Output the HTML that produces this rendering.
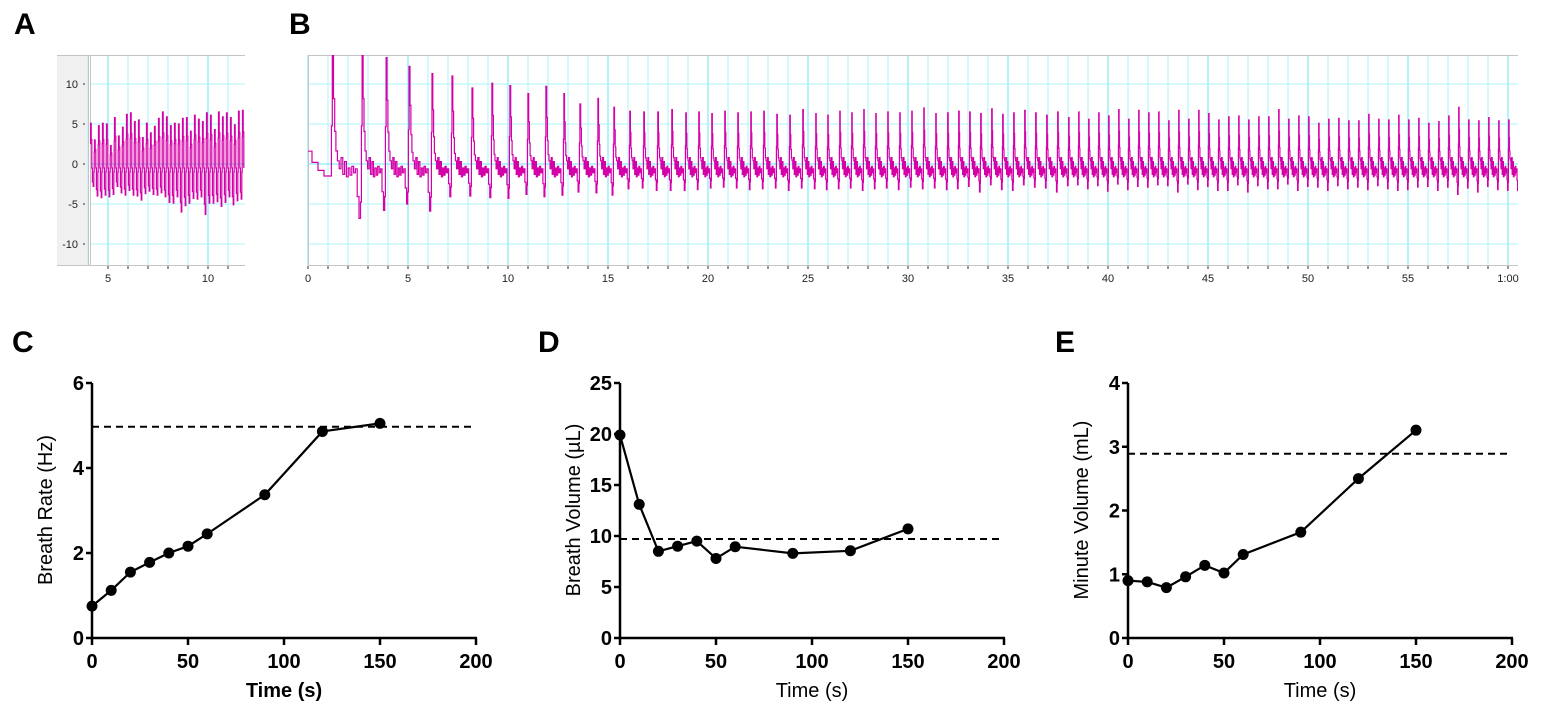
<!DOCTYPE html>
<html><head><meta charset="utf-8"><style>
html,body{margin:0;padding:0;background:#fff;width:1560px;height:728px;overflow:hidden}
svg{display:block;font-family:"Liberation Sans",Arial,sans-serif}
</style></head><body>
<svg id="fig" width="1560" height="728" viewBox="0 0 1560 728">
<defs>
<clipPath id="clipA"><rect x="90" y="55" width="155" height="210"/></clipPath>
<clipPath id="clipB"><rect x="308" y="55" width="1210" height="210"/></clipPath>
</defs>
<text x="14" y="34" font-size="30" font-weight="bold">A</text>
<text x="289" y="34" font-size="30" font-weight="bold">B</text>
<text x="12" y="352" font-size="30" font-weight="bold">C</text>
<text x="538" y="352" font-size="30" font-weight="bold">D</text>
<text x="1055" y="352" font-size="30" font-weight="bold">E</text>
</svg>
<script>
// ---- Panel A data (fast breathing trace, 4-11.8 s) ----
const aStart = 4.1;
const aInterval = 0.2;
const aPeaks = [5.1,3,4.8,5.1,5,2.3,5.8,3.5,4.6,6.2,6.4,5.3,5.5,3.3,5.1,3.9,4.7,5.7,6.5,5.9,4.8,5.1,5,5.7,5.8,4.1,6.1,5.6,5.3,6.4,6.1,4.3,6.5,5.9,6.4,5.8,4.9,6.6,6.7];
const aTroughs = [-2.8,-4,-4.2,-3.9,-4.1,-3.8,-2.8,-3.6,-3.9,-3.3,-3.9,-4,-4.5,-3.7,-3.4,-3.8,-3.9,-3.6,-4.1,-4.8,-4.9,-4.1,-6,-5.2,-4.9,-4.3,-4.4,-4.1,-6.3,-4.9,-4.9,-4.7,-5.3,-4.8,-4.1,-5.1,-4.6,-4.4,-4.5];
// ---- Panel B data (0-60.5 s) ----
const bPeakTimes = [1.2,2.7,3.9,5.05,6.2,7.2,8.2,9.2,10.1,11.0,11.9,12.8,13.6,14.5,15.3,16.1,16.8,17.5,18.2,18.9,19.55,20.2,20.85,21.5,22.15,22.8,23.45,24.1,24.75,25.4,26.0,26.6,27.2,27.8,28.4,29.0,29.6,30.2,30.8,31.4,32.0,32.55,33.1,33.65,34.2,34.75,35.3,35.85,36.4,36.95,37.5,38.05,38.55,39.05,39.55,40.05,40.55,41.05,41.55,42.05,42.55,43.05,43.55,44.05,44.55,45.05,45.55,46.05,46.55,47.05,47.55,48.05,48.55,49.05,49.55,50.05,50.55,51.05,51.55,52.05,52.55,53.05,53.55,54.05,54.55,55.05,55.55,56.05,56.55,57.05,57.55,58.05,58.55,59.05,59.55,60.05];
const bPeakVals = [13.6,13.6,13.3,12.2,11.3,11,9.5,10.1,9.8,8.8,9.7,8.8,7.5,8.2,7.1,6.6,6.5,6.5,6.8,6.4,6.5,6.3,6.6,6.4,6.5,6.6,6.2,6.1,6.8,6.3,6.1,6.6,6.4,6.8,6.3,6.5,6.4,6.6,7,6.3,6.4,6.6,6.5,6.3,6.9,6.2,6.4,6.7,6.4,6.1,6.5,5.8,6.5,5.6,6.4,6.0,6.8,5.6,6.7,6.4,6.5,5.4,6.7,5.6,6.7,6.3,5.5,5.9,6.0,5.5,5.9,5.9,6.8,5.6,6.0,5.9,5.1,5.6,5.7,5.4,5.4,6.2,5.6,5.5,6.1,5.5,5.7,5.1,5.3,6.0,7.1,5.5,5.4,5.8,5.4,5.5];
const bTroughVals = [-6.8,-5.8,-5,-5.9,-4.1,-4,-4.2,-4.3,-3.8,-4.1,-3.9,-3.5,-3.6,-3.9,-3.1,-3.0,-3.3,-3.3,-3.3,-3.2,-3,-2.9,-3,-3.2,-3.1,-3,-3.3,-3,-3.1,-3.2,-3.1,-3,-3.3,-3.1,-3,-3.2,-2.9,-3.1,-3.0,-3.2,-3.1,-2.8,-3.5,-2.6,-3.2,-3.3,-2.6,-2.9,-3.0,-3.5,-2.7,-2.6,-3.1,-2.7,-3.4,-2.5,-3.2,-2.8,-2.9,-2.6,-2.7,-3.5,-2.5,-3.2,-2.8,-3.3,-3.3,-2.6,-3.5,-2.7,-3.1,-3.1,-2.5,-3.3,-2.8,-2.9,-3.3,-2.7,-3.1,-2.9,-3.2,-2.7,-3.1,-3.3,-3.2,-2.9,-2.8,-3.3,-2.9,-3.8,-3.0,-3.5,-2.8,-3.2,-3.3,-3.4];
// ---- Panel C/D/E data ----
const times = [0,10,20,30,40,50,60,90,120,150];
const breathRate = [0.75,1.12,1.55,1.78,2.0,2.16,2.45,3.37,4.86,5.05];
const breathVolume = [19.9,13.1,8.5,9.0,9.5,7.8,8.95,8.3,8.55,10.7];
const minuteVolume = [0.9,0.88,0.79,0.96,1.14,1.02,1.31,1.66,2.5,3.26];
const refRate = 4.97, refVolume = 9.7, refMinute = 2.89;
const xTicks = [0,50,100,150,200];
const cTicks = [0,2,4,6], dTicks = [0,5,10,15,20,25], eTicks = [0,1,2,3,4];
const traceYTicks = [10,5,0,-5,-10];
const aXTicks = [5,10];
const bXTicks = [0,5,10,15,20,25,30,35,40,45,50,55,60];
const bXTickLabels = ['0','5','10','15','20','25','30','35','40','45','50','55','1:00'];
// breath template shapes: [phase, kind, factor]; kind p=peak, t=trough, z=absolute offset
const tplB = [[0,'p',0.35],[0.03,'p',1],[0.07,'p',0.6],[0.11,'p',0.3],[0.15,'p',0.12],[0.2,'z',0.4],[0.26,'z',-0.6],[0.32,'z',0.8],[0.38,'z',-1.3],[0.44,'z',0.3],[0.5,'z',-1.6],[0.56,'z',-0.5],[0.62,'z',-1.4],[0.68,'z',-0.3],[0.74,'z',-1.1],[0.8,'z',-0.6],[0.86,'t',0.6],[0.92,'t',1],[0.97,'t',0.7]];
const tplA = [[0,'p',0.5],[0.08,'p',1],[0.25,'p',0.6],[0.4,'z',-0.5],[0.55,'t',0.8],[0.75,'t',1],[0.9,'z',-1]];

const NS='http://www.w3.org/2000/svg';
const svg=document.getElementById('fig');
function el(tag,attrs,parent){const e=document.createElementNS(NS,tag);for(const k in attrs)e.setAttribute(k,attrs[k]);(parent||svg).appendChild(e);return e;}

function tracePath(tpl,times,peaks,troughs,x,y,t0,t1,defInt){
  let d='';let first=true;
  for(let i=0;i<times.length;i++){
    const tp=times[i];
    const nxt=i+1<times.length?times[i+1]:tp+defInt;
    const intv=nxt-tp;
    for(let j=0;j<tpl.length;j++){
      const t=tp-0.03+tpl[j][0]*intv;
      if(t<t0||t>t1)continue;
      const k=tpl[j][1],f=tpl[j][2];
      const v=k==='p'?peaks[i]*f:(k==='t'?troughs[i]*f:f);
      const px=x(t).toFixed(1),py=y(v).toFixed(1);
      if(first){d+='M'+px+' '+py;first=false;}else{d+='H'+px+'V'+py;}
    }
  }
  return d;
}

// ---------- Panel A ----------
(function(){
  const g=el('g',{});
  
  
  const x=t=>108+(t-5)*20, y=v=>164-v*8;
  el('rect',{x:57,y:55,width:31,height:210,fill:'#f0f0f0'},g);
  for(let s=4;s<=11;s++){const l=el('line',{x1:x(s),x2:x(s),y1:55,y2:265,stroke:s%5===0?'#66e8f4':'#aaf6f8','stroke-width':1},g);}
  traceYTicks.forEach(v=>{el('line',{x1:90,x2:245,y1:y(v),y2:y(v),stroke:v===0?'#66e8f4':'#aaf6f8'},g);
    const t=el('text',{x:78,y:y(v)+4,'font-size':11,'text-anchor':'end',fill:'#222'},g);t.textContent=v;
    el('line',{x1:83,x2:85,y1:y(v),y2:y(v),stroke:'#333'},g);});
  el('line',{x1:57,x2:245,y1:55.5,y2:55.5,stroke:'#c4c4c4'},g);
  el('line',{x1:57,x2:245,y1:265.5,y2:265.5,stroke:'#c4c4c4'},g);
  el('line',{x1:88.5,x2:88.5,y1:55,y2:265,stroke:'#c4c4c4'},g);
  el('line',{x1:90.5,x2:90.5,y1:55,y2:265,stroke:'#c4c4c4'},g);
  for(let s=5;s<=11;s++)el('line',{x1:x(s),x2:x(s),y1:266,y2:269,stroke:'#333'},g);
  aXTicks.forEach(v=>{const t=el('text',{x:x(v),y:282,'font-size':11,'text-anchor':'middle',fill:'#222'},g);t.textContent=v;});
  const tms=aPeaks.map((p,i)=>aStart+0.04+i*aInterval);
  const p=el('path',{d:tracePath(tplA,tms,aPeaks,aTroughs,x,y,4.1,11.8,aInterval),fill:'none',stroke:'#d400a8','stroke-width':1.2,'clip-path':'url(#clipA)'},g);
  
})();

// ---------- Panel B ----------
(function(){
  const g=el('g',{});
  
  
  const x=t=>308+t*20, y=v=>164-v*8;
  const xr=1518;
  for(let s=0;s<=60;s++){const l=el('line',{x1:x(s),x2:x(s),y1:55,y2:265,stroke:s%5===0?'#66e8f4':'#aaf6f8'},g);
    el('line',{x1:x(s),x2:x(s),y1:266,y2:269,stroke:'#333'},g);}
  traceYTicks.forEach(v=>{el('line',{x1:308,x2:xr,y1:y(v),y2:y(v),stroke:v===0?'#66e8f4':'#aaf6f8'},g);});
  el('line',{x1:308,x2:xr,y1:55.5,y2:55.5,stroke:'#c4c4c4'},g);
  el('line',{x1:308,x2:xr,y1:265.5,y2:265.5,stroke:'#c4c4c4'},g);
  el('line',{x1:308.5,x2:308.5,y1:55,y2:265,stroke:'#c4c4c4'},g);
  bXTicks.forEach((v,i)=>{const t=el('text',{x:x(v),y:282,'font-size':11,'text-anchor':'middle',fill:'#222'},g);t.textContent=bXTickLabels[i];});
  const lead='M'+x(0)+' '+y(1.6)+'H'+x(0.2)+'V'+y(0.2)+'H'+x(0.5)+'V'+y(-0.8)+'H'+x(0.8)+'V'+y(-1.5);
  const d=lead+tracePath(tplB,bPeakTimes,bPeakVals,bTroughVals,x,y,0.9,60.5,0.5).replace(/^M/,'H').replace(/^H([\d.]+) ([\d.]+)/,'H$1V$2');
  const p=el('path',{d:d,fill:'none',stroke:'#d400a8','stroke-width':1.2,'clip-path':'url(#clipB)'},g);
  
})();

// ---------- Scatter panels ----------
function scatter(name,x0,vals,ref,ticks,ymax,title,boldTitle){
  const g=el('g',{});
  
  
  const X=t=>x0+t*(384/200), Y=v=>638-v*(255/ymax);
  el('line',{x1:x0,x2:x0,y1:Y(ymax),y2:639,stroke:'#000','stroke-width':2.5},g);
  el('line',{x1:x0-1,x2:X(200)+1,y1:638,y2:638,stroke:'#000','stroke-width':2.5},g);
  ticks.forEach(v=>{el('line',{x1:x0-6,x2:x0,y1:Y(v),y2:Y(v),stroke:'#000','stroke-width':2.5},g);
    const t=el('text',{x:x0-8,y:Y(v)+7,'font-size':20,'font-weight':'bold','text-anchor':'end'},g);t.textContent=v;});
  xTicks.forEach(v=>{el('line',{x1:X(v),x2:X(v),y1:638,y2:645,stroke:'#000','stroke-width':2.5},g);
    const t=el('text',{x:X(v),y:668,'font-size':20,'font-weight':'bold','text-anchor':'middle'},g);t.textContent=v;});
  const xt=el('text',{x:X(100),y:697,'font-size':20,'font-weight':boldTitle?'bold':'normal','text-anchor':'middle'},g);xt.textContent='Time (s)';
  
  const yt=el('text',{transform:'translate('+(x0-40)+',510) rotate(-90)','font-size':20,'text-anchor':'middle'},g);yt.textContent=title;
  
  const rl=el('line',{x1:x0,x2:X(200),y1:Y(ref),y2:Y(ref),stroke:'#000','stroke-width':2,'stroke-dasharray':'7,5'},g);
  
  const pl=el('polyline',{points:times.map((t,i)=>X(t)+','+Y(vals[i])).join(' '),fill:'none',stroke:'#000','stroke-width':2.2},g);
  
  times.forEach((t,i)=>{const c=el('circle',{cx:X(t),cy:Y(vals[i]),r:5.5,fill:'#000'},g);
    });
}
scatter('panel-c-breath-rate-chart',92,breathRate,refRate,cTicks,6,'Breath Rate (Hz)',true);
scatter('panel-d-breath-volume-chart',620,breathVolume,refVolume,dTicks,25,'Breath Volume (\u00b5L)',false);
scatter('panel-e-minute-volume-chart',1128,minuteVolume,refMinute,eTicks,4,'Minute Volume (mL)',false);
</script>
</body></html>
